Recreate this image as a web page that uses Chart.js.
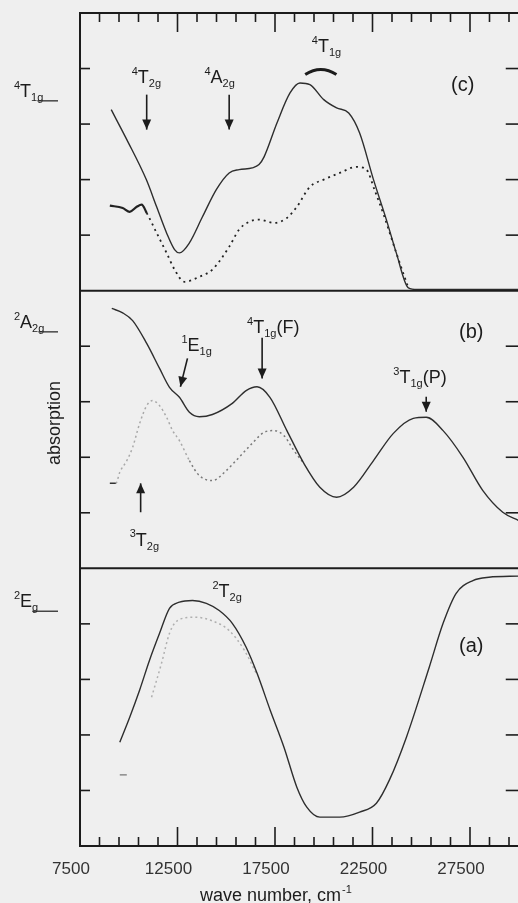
<!DOCTYPE html>
<html>
<head>
<meta charset="utf-8">
<script src="https://cdn.jsdelivr.net/npm/chart.js@4.4.1/dist/chart.umd.min.js"></script>
<style>
  html, body { margin: 0; padding: 0; background: #efefef; overflow: hidden; }
  #wrap { width: 518px; height: 903px; overflow: hidden; }
</style>
</head>
<body>
<div id="wrap"><canvas id="spectra" width="522" height="903"></canvas></div>
<script>
// wave numbers (cm-1) and absorption per panel
const cSolidX = [9100, 9900, 10900, 11430, 11940, 12350, 12600, 13110, 13780, 14490, 15150, 15660, 16330, 16680, 16940, 17600, 18270, 18780, 19290, 20000, 20660, 21280, 21840, 22550, 23210, 23720, 24340, 24800, 26000, 28000, 30000];
const cSolidY = [3.26, 2.72, 2.00, 1.51, 1.04, 0.74, 0.68, 0.86, 1.33, 1.82, 2.12, 2.18, 2.21, 2.27, 2.41, 3.02, 3.56, 3.74, 3.71, 3.44, 3.29, 3.20, 2.84, 2.00, 1.28, 0.68, 0.05, 0.02, 0.02, 0.02, 0.02];
const cDotX = [9030, 9690, 10050, 10410, 10660, 10920, 11430, 11940, 12350, 12860, 13620, 14290, 15150, 15660, 16170, 16680, 17450, 18110, 18620, 19290, 20000, 20820, 21680, 22190, 22600, 23110, 23720, 24340];
const cDotY = [1.53, 1.49, 1.42, 1.51, 1.55, 1.40, 1.04, 0.68, 0.38, 0.16, 0.25, 0.38, 0.79, 1.10, 1.24, 1.28, 1.22, 1.31, 1.51, 1.87, 2.00, 2.12, 2.23, 2.18, 1.82, 1.33, 0.68, 0.05];

const bSolidX = [9130, 9690, 10200, 10920, 11580, 12090, 12600, 13110, 13620, 14290, 15310, 16020, 16580, 17240, 18110, 18980, 19800, 20660, 21530, 22550, 23570, 24590, 25260, 26120, 27140, 28160, 29180, 30000];
const bSolidY = [4.68, 4.60, 4.46, 4.05, 3.60, 3.26, 3.08, 2.81, 2.73, 2.77, 2.97, 3.20, 3.27, 3.08, 2.48, 1.89, 1.46, 1.28, 1.46, 1.94, 2.43, 2.70, 2.72, 2.48, 2.00, 1.40, 1.01, 0.86];
const bDotX = [9030, 9340, 9540, 9900, 10200, 10560, 10920, 11220, 11580, 11940, 12250, 12600, 13110, 13620, 14290, 15000, 15660, 16330, 16940, 17450, 17960, 18470, 18980];
const bDotY = [1.53, 1.53, 1.73, 1.94, 2.18, 2.61, 2.93, 3.02, 2.93, 2.72, 2.48, 2.30, 1.94, 1.67, 1.58, 1.76, 2.00, 2.25, 2.45, 2.48, 2.39, 2.12, 1.89];

const aSolidX = [9540, 10050, 10560, 11070, 11580, 12090, 12600, 13270, 13980, 14640, 15310, 16020, 16580, 17250, 17960, 18620, 19130, 19800, 20820, 21840, 22700, 23370, 24240, 25410, 26120, 26790, 27650, 28470, 30000];
const aSolidY = [1.87, 2.32, 2.81, 3.35, 3.83, 4.28, 4.39, 4.42, 4.37, 4.24, 4.01, 3.58, 3.11, 2.45, 1.78, 1.06, 0.70, 0.52, 0.52, 0.61, 0.77, 1.19, 1.96, 3.22, 4.01, 4.55, 4.78, 4.84, 4.86];
const aDotX = [11170, 11680, 12090, 12500, 13370, 14240, 15150, 15920, 16580];
const aDotY = [2.68, 3.29, 3.83, 4.06, 4.12, 4.06, 3.88, 3.53, 3.08];
const aDashX = [9540, 9900];
const aDashY = [1.28, 1.28];

const xTicks = [7500, 8500, 9500, 10500, 11500, 12500, 13500, 14500, 15500, 16500, 17500, 18500, 19500, 20500, 21500, 22500, 23500, 24500, 25500, 26500, 27500, 28500, 29500];
const xLabels = [7500, 12500, 17500, 22500, 27500];
const yTicks = [1, 2, 3, 4];

const FONT = '"Liberation Sans", Arial, sans-serif';
const INK = '#1c1c1c';

function pts(xs, ys) {
  return xs.map((v, i) => ({x: v, y: ys[i]}));
}

function line(ctx, x1, y1, x2, y2) {
  ctx.beginPath();
  ctx.moveTo(x1, y1);
  ctx.lineTo(x2, y2);
  ctx.stroke();
}

function arrow(ctx, x1, y1, x2, y2) {
  ctx.lineWidth = 1.6;
  line(ctx, x1, y1, x2, y2);
  const a = Math.atan2(y2 - y1, x2 - x1);
  const len = 10, half = 4.5;
  ctx.beginPath();
  ctx.moveTo(x2, y2);
  ctx.lineTo(x2 - len * Math.cos(a) + half * Math.sin(a), y2 - len * Math.sin(a) - half * Math.cos(a));
  ctx.lineTo(x2 - len * Math.cos(a) - half * Math.sin(a), y2 - len * Math.sin(a) + half * Math.cos(a));
  ctx.closePath();
  ctx.fill();
}

// text with superscript / subscript parts
function richText(ctx, x, y, parts, size) {
  let cx = x;
  parts.forEach(p => {
    const kind = p[1];
    const s = kind ? Math.round(size * 0.62) : size;
    ctx.font = s + 'px ' + FONT;
    const dy = kind === 'sup' ? -size * 0.45 : kind === 'sub' ? size * 0.22 : 0;
    ctx.fillText(p[0], cx, y + dy);
    cx += ctx.measureText(p[0]).width;
  });
  return cx;
}

const notes = [
  {axis: 'yC', x: 10150, y: 3.74, parts: [['4', 'sup'], ['T'], ['2g', 'sub']]},
  {axis: 'yC', x: 13880, y: 3.74, parts: [['4', 'sup'], ['A'], ['2g', 'sub']]},
  {axis: 'yC', x: 19390, y: 4.30, parts: [['4', 'sup'], ['T'], ['1g', 'sub']]},
  {axis: 'yC', x: 26530, y: 3.60, parts: [['(c)']], size: 20},
  {axis: 'yB', x: 12700, y: 3.92, parts: [['1', 'sup'], ['E'], ['1g', 'sub']]},
  {axis: 'yB', x: 16070, y: 4.24, parts: [['4', 'sup'], ['T'], ['1g', 'sub'], ['(F)']]},
  {axis: 'yB', x: 26940, y: 4.15, parts: [['(b)']], size: 20},
  {axis: 'yB', x: 23570, y: 3.33, parts: [['3', 'sup'], ['T'], ['1g', 'sub'], ['(P)']]},
  {axis: 'yB', x: 10050, y: 0.41, parts: [['3', 'sup'], ['T'], ['2g', 'sub']]},
  {axis: 'yA', x: 14290, y: 4.48, parts: [['2', 'sup'], ['T'], ['2g', 'sub']]},
  {axis: 'yA', x: 26940, y: 3.49, parts: [['(a)']], size: 20}
];

const arrows = [
  {axis: 'yC', x1: 10920, y1: 3.53, x2: 10920, y2: 2.90},
  {axis: 'yC', x1: 15150, y1: 3.53, x2: 15150, y2: 2.90},
  {axis: 'yB', x1: 13010, y1: 3.78, x2: 12650, y2: 3.27},
  {axis: 'yB', x1: 16840, y1: 4.15, x2: 16840, y2: 3.42},
  {axis: 'yB', x1: 25255, y1: 3.09, x2: 25255, y2: 2.82},
  {axis: 'yB', x1: 10610, y1: 1.01, x2: 10610, y2: 1.53}
];

const levels = [
  {axis: 'yC', y: 3.49, parts: [['4', 'sup'], ['T'], ['1g', 'sub']]},
  {axis: 'yB', y: 4.33, parts: [['2', 'sup'], ['A'], ['2g', 'sub']]},
  {axis: 'yA', y: 4.30, parts: [['2', 'sup'], ['E'], ['g', 'sub']]}
];

const decor = {
  id: 'decor',
  afterDraw(chart) {
    const ctx = chart.ctx;
    const area = chart.chartArea;
    const xs = chart.scales.x;
    ctx.save();
    ctx.strokeStyle = INK;
    ctx.fillStyle = INK;

    // panel borders
    ctx.lineWidth = 2;
    ['yC', 'yB', 'yA'].forEach(id => {
      const s = chart.scales[id];
      line(ctx, area.left, s.top, area.right, s.top);
    });

    // inward ticks
    ctx.lineWidth = 1.6;
    xTicks.forEach(v => {
      const px = xs.getPixelForValue(v);
      const len = xLabels.includes(v) ? 19 : 9;
      line(ctx, px, area.top, px, area.top + len);
      line(ctx, px, area.bottom, px, area.bottom - len);
    });
    ['yA', 'yB', 'yC'].forEach(id => {
      const s = chart.scales[id];
      yTicks.forEach(v => {
        const py = s.getPixelForValue(v);
        line(ctx, area.left, py, area.left + 10, py);
        line(ctx, area.right, py, area.right - 13, py);
      });
    });

    // annotations
    ctx.textBaseline = 'alphabetic';
    notes.forEach(n => {
      const s = chart.scales[n.axis];
      richText(ctx, xs.getPixelForValue(n.x), s.getPixelForValue(n.y), n.parts, n.size || 18);
    });
    arrows.forEach(a => {
      const s = chart.scales[a.axis];
      arrow(ctx, xs.getPixelForValue(a.x1), s.getPixelForValue(a.y1), xs.getPixelForValue(a.x2), s.getPixelForValue(a.y2));
    });

    // bracket over the 4T1g band
    const yc = chart.scales.yC;
    const bx1 = xs.getPixelForValue(19050), bx2 = xs.getPixelForValue(20650);
    const by = yc.getPixelForValue(3.93);
    ctx.lineWidth = 3;
    ctx.beginPath();
    ctx.moveTo(bx1, by + 2);
    ctx.quadraticCurveTo((bx1 + bx2) / 2, by - 8, bx2, by + 2);
    ctx.stroke();

    // energy level labels on the left
    levels.forEach(l => {
      const s = chart.scales[l.axis];
      const py = s.getPixelForValue(l.y);
      const end = richText(ctx, 14, py, l.parts, 18);
      ctx.lineWidth = 1.2;
      line(ctx, end - 6, py + 4, 58, py + 4);
    });

    // axis titles
    ctx.font = '18px ' + FONT;
    ctx.save();
    ctx.translate(60, 423);
    ctx.rotate(-Math.PI / 2);
    ctx.textAlign = 'center';
    ctx.fillText('absorption', 0, 0);
    ctx.restore();
    ctx.font = '18px ' + FONT;
    ctx.fillText('wave number, cm', 200, 901);
    const end = 200 + ctx.measureText('wave number, cm').width;
    ctx.font = '11px ' + FONT;
    ctx.fillText('-1', end + 1, 893);

    ctx.restore();
  }
};

const solid = {borderColor: '#2e2e2e', borderWidth: 1.4, pointRadius: 0, fill: false, cubicInterpolationMode: 'monotone'};

function yAxis() {
  return {
    type: 'linear',
    position: 'left',
    stack: 'panels',
    stackWeight: 1,
    min: 0,
    max: 5,
    ticks: {display: false},
    grid: {display: true, drawOnChartArea: false, drawTicks: false},
    border: {display: true, color: INK, width: 2},
    afterFit: s => { s.width = 80; }
  };
}

new Chart(document.getElementById('spectra'), {
  type: 'line',
  data: {
    datasets: [
      Object.assign({label: 'c solid', data: pts(cSolidX, cSolidY), yAxisID: 'yC'}, solid),
      {
        label: 'c dotted', data: pts(cDotX, cDotY), yAxisID: 'yC',
        borderColor: '#222', borderWidth: 1.8, pointRadius: 0, fill: false, cubicInterpolationMode: 'monotone',
        borderDash: [],
        segment: {
          borderDash: ctx => ctx.p0DataIndex >= 5 ? [2, 4] : undefined,
          borderWidth: ctx => ctx.p0DataIndex >= 5 ? 1.8 : 2.2
        }
      },
      Object.assign({label: 'b solid', data: pts(bSolidX, bSolidY), yAxisID: 'yB'}, solid),
      {
        label: 'b dotted', data: pts(bDotX, bDotY), yAxisID: 'yB',
        borderColor: '#8a8a8a', borderWidth: 1.5, pointRadius: 0, fill: false, cubicInterpolationMode: 'monotone',
        borderDash: [],
        segment: {
          borderDash: ctx => ctx.p0DataIndex >= 1 ? [2, 3] : undefined,
          borderColor: ctx => ctx.p0DataIndex < 1 ? '#333' : ctx.p0DataIndex < 12 ? '#a8a8a8' : '#7a7a7a'
        }
      },
      Object.assign({label: 'a solid', data: pts(aSolidX, aSolidY), yAxisID: 'yA'}, solid),
      {
        label: 'a dotted', data: pts(aDotX, aDotY), yAxisID: 'yA',
        borderColor: '#b0b0b0', borderWidth: 1.5, borderDash: [2, 3], pointRadius: 0, fill: false, cubicInterpolationMode: 'monotone'
      },
      {
        label: 'a dash', data: pts(aDashX, aDashY), yAxisID: 'yA',
        borderColor: '#777', borderWidth: 1.3, pointRadius: 0, fill: false
      }
    ]
  },
  options: {
    responsive: false,
    animation: false,
    layout: {padding: {top: 13, right: 0, left: 0, bottom: 0}},
    plugins: {legend: {display: false}, tooltip: {enabled: false}},
    scales: {
      x: {
        type: 'linear',
        min: 7500,
        max: 30000,
        afterBuildTicks: s => { s.ticks = xTicks.map(v => ({value: v})); },
        ticks: {
          autoSkip: false,
          maxRotation: 0,
          padding: 13,
          labelOffset: -9,
          color: '#333',
          font: {family: FONT, size: 17},
          callback: v => xLabels.includes(v) ? String(v) : ''
        },
        grid: {display: true, drawOnChartArea: false, drawTicks: false},
        border: {display: true, color: INK, width: 2},
        afterFit: s => { s.height = 57; }
      },
      yA: yAxis(),
      yB: yAxis(),
      yC: yAxis()
    }
  },
  plugins: [decor]
});
</script>
</body>
</html>
